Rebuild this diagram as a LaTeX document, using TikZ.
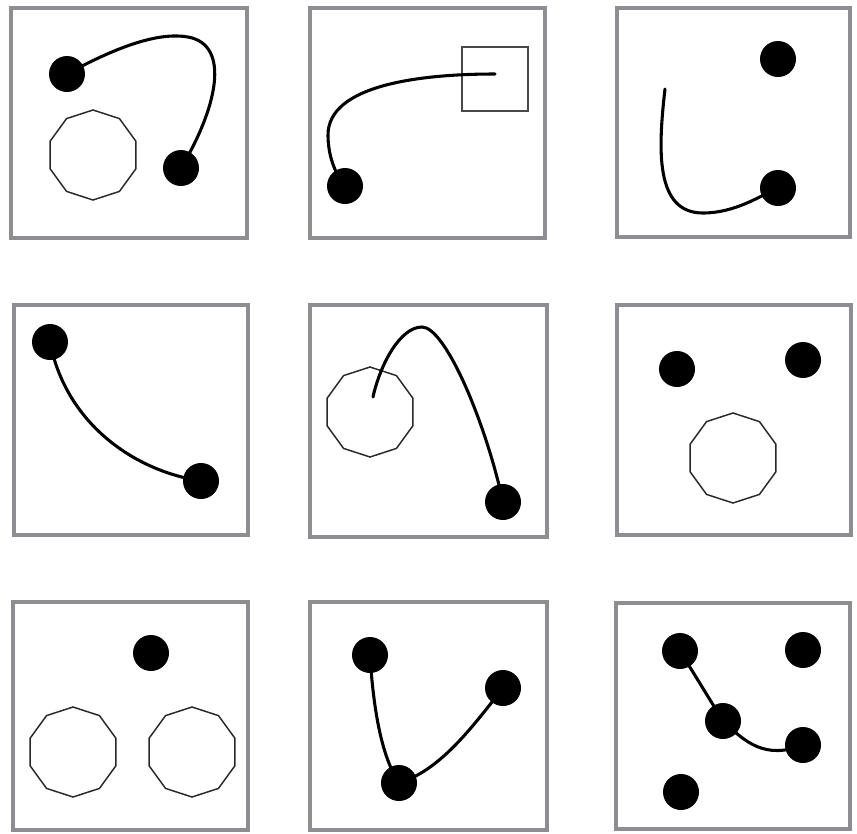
\documentclass[tikz,border=0pt]{standalone}
\usetikzlibrary{shapes.geometric}
\definecolor{framegray}{RGB}{140,142,147}
\definecolor{polygray}{RGB}{40,40,40}
\tikzset{
  panel/.style={draw=framegray, line width=3pt, fill=white},
  dot/.style={circle, fill=black, draw=none, minimum size=27pt, inner sep=0pt},
  deca/.style={regular polygon, regular polygon sides=10, shape border rotate=18,
    minimum size=67.5pt, inner sep=0pt, draw=polygray, line width=1.1pt, fill=white},
  sq/.style={rectangle, draw=polygray!85, line width=1.2pt, minimum width=49.5pt, minimum height=48pt, inner sep=0pt},
  wire/.style={line width=2.3pt, black, line cap=round}
}
\begin{document}
\begin{tikzpicture}[x=0.75pt, y=-0.75pt]
\useasboundingbox (0,0) rectangle (857,833);
% frames
\draw[panel] (11,8) rectangle (247,238);
\draw[panel] (310,8) rectangle (545,238);
\draw[panel] (617,8) rectangle (850,237);
\draw[panel] (14,305) rectangle (248,535);
\draw[panel] (310,305) rectangle (547,537);
\draw[panel] (617,305) rectangle (851,535);
\draw[panel] (13,602) rectangle (248,830);
\draw[panel] (310,602) rectangle (547,830);
\draw[panel] (616,603) rectangle (850,829);

% panel 1
\node[deca] (p1) at (93,155) {};
\node[dot] (a1) at (67,74) {};
\node[dot] (b1) at (181,168) {};
\draw[wire] (a1.center) .. controls (120,45) and (160,32) .. (188,37)
  .. controls (232,45) and (216,110) .. (b1.center);

% panel 2
\node[sq] (s2) at (495,79) {};
\node[dot] (a2) at (345,186) {};
\coordinate (e2) at (495,74);
\draw[wire] (a2.center) .. controls (332,170) and (328,150) .. (328,135)
  .. controls (328,85) and (420,74) .. (e2);

% panel 3
\node[dot] (a3) at (778,59) {};
\node[dot] (b3) at (778,188) {};
\coordinate (e3) at (665,89);
\draw[wire] (e3) .. controls (658,150) and (655,213) .. (703,213)
  .. controls (735,213) and (760,196) .. (b3.center);

% panel 4
\node[dot] (a4) at (50,342) {};
\node[dot] (b4) at (201,481) {};
\draw[wire] (a4.center) .. controls (65,420) and (130,470) .. (b4.center);

% panel 5
\node[deca] (p5) at (370,412) {};
\node[dot] (a5) at (503,502) {};
\coordinate (e5) at (373,397);
\draw[wire] (e5) .. controls (380,365) and (400,327) .. (422,327)
  .. controls (445,327) and (485,420) .. (a5.center);

% panel 6
\node[dot] (a6) at (677,369) {};
\node[dot] (b6) at (803,360) {};
\node[deca] (p6) at (733,458) {};

% panel 7
\node[dot] (a7) at (151,653) {};
\node[deca] (p7) at (73,752) {};
\node[deca] (q7) at (192,752) {};

% panel 8
\node[dot] (a8) at (370,655) {};
\node[dot] (b8) at (503,688) {};
\node[dot] (c8) at (399,783) {};
\draw[wire] (a8.center) .. controls (374,720) and (384,760) .. (c8.center);
\draw[wire] (c8.center) .. controls (440,770) and (470,730) .. (b8.center);

% panel 9
\node[dot] (a9) at (680,651) {};
\node[dot] (b9) at (803,650) {};
\node[dot] (c9) at (723,721) {};
\node[dot] (d9) at (803,745) {};
\node[dot] (e9) at (681,792) {};
\draw[wire] (a9.center) -- (c9.center);
\draw[wire] (c9.center) .. controls (745,742) and (765,760) .. (d9.center);
\end{tikzpicture}
\end{document}
